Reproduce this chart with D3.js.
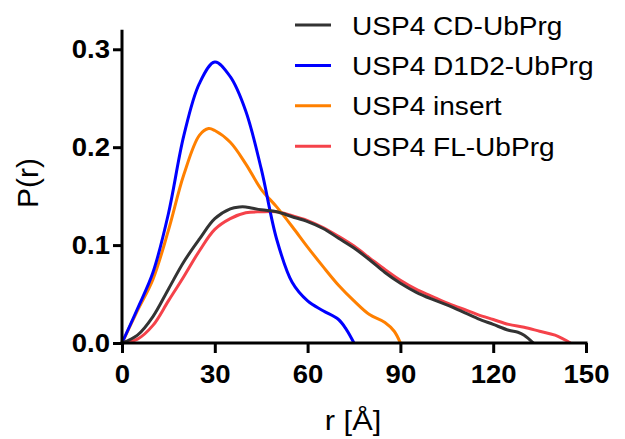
<!DOCTYPE html>
<html><head><meta charset="utf-8">
<script src="https://cdn.jsdelivr.net/npm/d3@7"></script>
<style>
body{margin:0;background:#fff;}
svg{display:block;font-family:"Liberation Sans",Arial,sans-serif;}
</style></head>
<body>
<svg id="c" width="625" height="439"></svg>
<script>
// ---- data ----
const seriesNames = ["USP4 CD-UbPrg","USP4 D1D2-UbPrg","USP4 insert","USP4 FL-UbPrg"];
const seriesColors = ["#333333","#0000ff","#ff8000","#f5424a"];
const xTicks = [0,30,60,90,120,150];
const yTicks = [0,0.1,0.2,0.3];

const cdR = [0,5,10,15,20,25,30,35,38,40,45,50,55,60,65,70,75,80,85,90,95,100,105,110,115,120,125,128,130,133];
const cdP = [0,0.008,0.027,0.055,0.083,0.106,0.127,0.137,0.139,0.139,0.136,0.134,0.129,0.124,0.117,0.107,0.097,0.085,0.072,0.061,0.052,0.045,0.039,0.032,0.025,0.019,0.013,0.011,0.008,0];

const d1d2R = [0,5,10,15,20,25,30,35,40,45,50,55,60,65,70,72.5,75];
const d1d2P = [0,0.035,0.072,0.132,0.212,0.265,0.287,0.272,0.237,0.178,0.106,0.062,0.043,0.033,0.024,0.014,0];

const insR = [0,5,10,15,20,25,28,30,35,40,45,50,55,60,65,70,75,80,85,88,90];
const insP = [0,0.033,0.065,0.115,0.172,0.212,0.219,0.217,0.205,0.183,0.157,0.139,0.119,0.098,0.078,0.059,0.043,0.029,0.021,0.012,0];

const flR = [0,5,10,15,20,25,30,35,40,45,50,55,60,65,70,75,80,85,90,95,100,105,110,115,120,125,130,135,140,145];
const flP = [0,0.004,0.018,0.043,0.068,0.094,0.116,0.127,0.133,0.134,0.134,0.130,0.125,0.118,0.109,0.099,0.087,0.075,0.064,0.055,0.048,0.041,0.035,0.029,0.024,0.019,0.016,0.012,0.008,0];

const seriesR = [cdR,d1d2R,insR,flR];
const seriesP = [cdP,d1d2P,insP,flP];

// ---- chart ----
const svg = d3.select("#c");
const x = d3.scaleLinear().domain([0,150]).range([122,586]);
const y = d3.scaleLinear().domain([0,0.32]).range([343,29.7]);
const SX = 1.1; // horizontal text stretch seen in the reference

const line = d3.line().x(d=>x(d[0])).y(d=>y(d[1])).curve(d3.curveCatmullRom.alpha(0.5));

for (let i = seriesNames.length-1; i>=0; i--) {
  const pts = seriesR[i].map((r,k)=>[r, seriesP[i][k]]);
  svg.append("path").attr("d", line(pts)).attr("fill","none")
    .attr("stroke", seriesColors[i]).attr("stroke-width",3).attr("stroke-linejoin","round");
}

const xAxis = svg.append("g").attr("transform","translate(0,343)")
  .call(d3.axisBottom(x).tickValues(xTicks).tickFormat(d3.format("d")).tickSize(10).tickSizeOuter(0).tickPadding(12));
const yAxis = svg.append("g").attr("transform","translate(122,0)")
  .call(d3.axisLeft(y).tickValues(yTicks).tickFormat(d3.format(".1f")).tickSize(9).tickSizeOuter(0).tickPadding(3));

[xAxis,yAxis].forEach(g=>{
  g.select(".domain").attr("stroke","#000").attr("stroke-width",3);
  g.selectAll(".tick line").attr("stroke","#000").attr("stroke-width",3);
  g.selectAll(".tick text").attr("fill","#000").style("font-size","25px").style("font-weight","bold")
    .style("font-family","'Liberation Sans',Arial,sans-serif");
});
xAxis.selectAll(".tick text").attr("transform",`scale(${SX},1)`);
yAxis.selectAll(".tick text").each(function(){
  const t = d3.select(this); const tx = +t.attr("x");
  t.attr("x",0).attr("transform",`translate(${tx},0) scale(${SX},1)`);
});
xAxis.select(".domain").attr("d",`M${x(0)-1.5},0H${x(150)+1.5}`);
yAxis.select(".domain").attr("d",`M0,${y(0.32)}V${y(0)+1.5}`);

svg.append("text").attr("transform",`translate(353,430) scale(${SX},1)`).attr("text-anchor","middle")
  .style("font-size","28px").text("r [Å]");
svg.append("text").attr("transform","translate(38,183) rotate(-90)").attr("text-anchor","middle")
  .style("font-size","30px").text("P(r)");

// legend
const leg = svg.append("g");
seriesNames.forEach((n,i)=>{
  const ly = 25 + i*40.4;
  leg.append("line").attr("x1",295).attr("x2",331).attr("y1",ly).attr("y2",ly)
    .attr("stroke",seriesColors[i]).attr("stroke-width",3);
  leg.append("text").attr("transform",`translate(352,${ly+9.5}) scale(${SX},1)`).style("font-size","25.5px").text(n);
});
</script>
</body></html>
